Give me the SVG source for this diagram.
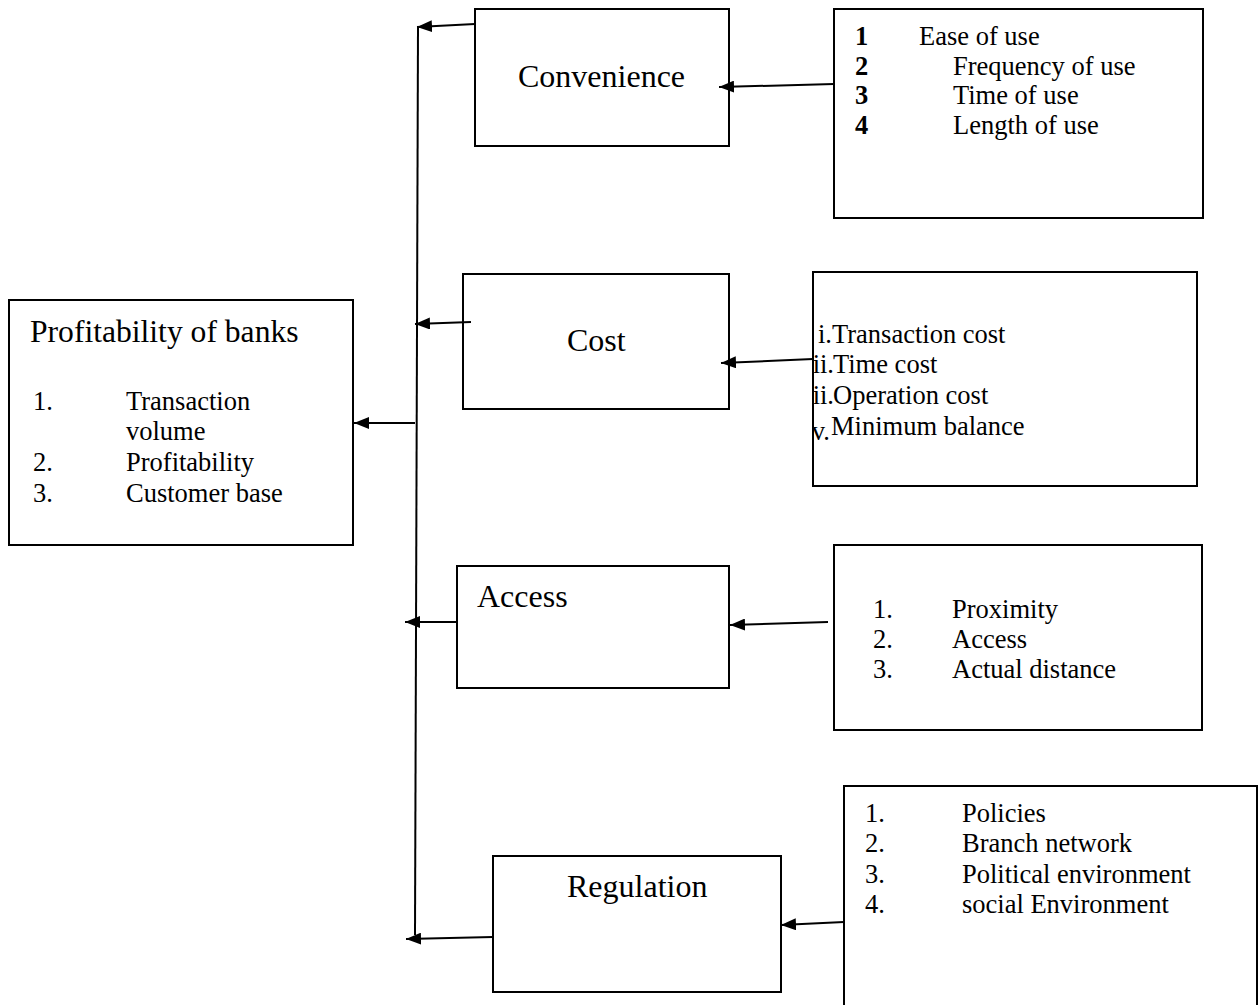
<svg xmlns="http://www.w3.org/2000/svg" width="1259" height="1005" viewBox="0 0 1259 1005">
<style>
.box{fill:#fff;stroke:#000;stroke-width:2}
.ln{fill:none;stroke:#000;stroke-width:2}
.t{font-family:"Liberation Serif","Times New Roman",serif;fill:#000}
.h{font-size:32px}
.s{font-size:26.5px}
.b{font-weight:bold}
</style>
<defs>
<marker id="ah" viewBox="0 0 15 12" refX="15" refY="6" markerWidth="15" markerHeight="12" markerUnits="userSpaceOnUse" orient="auto">
<path d="M0,0 L15,6 L0,12 z" fill="#000"/>
</marker>
<clipPath id="costclip"><rect x="814" y="272" width="383" height="214"/></clipPath>
</defs>

<g id="profitability">
<rect class="box" x="9" y="300" width="344" height="245"/>
<text class="t" x="30" y="342" font-size="31.6">Profitability of banks</text>
<text class="t s" x="33" y="410">1.</text><text class="t s" x="126" y="410">Transaction</text>
<text class="t s" x="126" y="440">volume</text>
<text class="t s" x="33" y="471">2.</text><text class="t s" x="126" y="471">Profitability</text>
<text class="t s" x="33" y="502">3.</text><text class="t s" x="126" y="502">Customer base</text>
</g>

<g id="convenience">
<rect class="box" x="475" y="9" width="254" height="137"/>
<text class="t h" x="518" y="87">Convenience</text>
</g>

<g id="convenience-factors">
<rect class="box" x="834" y="9" width="369" height="209"/>
<text class="t s b" x="855" y="45">1</text><text class="t s" x="919" y="45">Ease of use</text>
<text class="t s b" x="855" y="75">2</text><text class="t s" x="953" y="75">Frequency of use</text>
<text class="t s b" x="855" y="104">3</text><text class="t s" x="953" y="104">Time of use</text>
<text class="t s b" x="855" y="134">4</text><text class="t s" x="953" y="134">Length of use</text>
</g>

<g id="cost">
<rect class="box" x="463" y="274" width="266" height="135"/>
<text class="t h" x="567" y="351">Cost</text>
</g>

<g id="cost-factors">
<rect class="box" x="813" y="272" width="384" height="214"/>
<g clip-path="url(#costclip)">
<text class="t s" x="832" y="343" text-anchor="end">i.</text><text class="t s" x="832" y="343">Transaction cost</text>
<text class="t s" x="834" y="373" text-anchor="end">ii.</text><text class="t s" x="833" y="373">Time cost</text>
<text class="t s" x="834" y="404" text-anchor="end">ii.</text><text class="t s" x="833" y="404">Operation cost</text>
<text class="t s" x="830" y="440" text-anchor="end">v.</text><text class="t s" x="831" y="435">Minimum balance</text>
</g>
</g>

<g id="access">
<rect class="box" x="457" y="566" width="272" height="122"/>
<text class="t h" x="477" y="607">Access</text>
</g>

<g id="access-factors">
<rect class="box" x="834" y="545" width="368" height="185"/>
<text class="t s" x="873" y="618">1.</text><text class="t s" x="952" y="618">Proximity</text>
<text class="t s" x="873" y="648">2.</text><text class="t s" x="952" y="648">Access</text>
<text class="t s" x="873" y="678">3.</text><text class="t s" x="952" y="678">Actual distance</text>
</g>

<g id="regulation">
<rect class="box" x="493" y="856" width="288" height="136"/>
<text class="t h" x="567" y="897">Regulation</text>
</g>

<g id="regulation-factors">
<path class="box" d="M844,1005 V786 H1257 V1005"/>
<text class="t s" x="865" y="822">1.</text><text class="t s" x="962" y="822">Policies</text>
<text class="t s" x="865" y="852">2.</text><text class="t s" x="962" y="852">Branch network</text>
<text class="t s" x="865" y="883">3.</text><text class="t s" x="962" y="883">Political environment</text>
<text class="t s" x="865" y="913">4.</text><text class="t s" x="962" y="913">social Environment</text>
</g>

<g id="connectors">
<line class="ln" x1="418" y1="27" x2="415" y2="935"/>
<line class="ln" x1="475" y1="24" x2="417" y2="27" marker-end="url(#ah)"/>
<line class="ln" x1="471" y1="322" x2="415" y2="324" marker-end="url(#ah)"/>
<line class="ln" x1="415" y1="423" x2="354" y2="423" marker-end="url(#ah)"/>
<line class="ln" x1="457" y1="622" x2="405" y2="622" marker-end="url(#ah)"/>
<line class="ln" x1="493" y1="937" x2="406" y2="939" marker-end="url(#ah)"/>
<line class="ln" x1="834" y1="84" x2="719" y2="87" marker-end="url(#ah)"/>
<line class="ln" x1="813" y1="359" x2="721" y2="363" marker-end="url(#ah)"/>
<line class="ln" x1="828" y1="622" x2="730" y2="625" marker-end="url(#ah)"/>
<line class="ln" x1="844" y1="922" x2="781" y2="925" marker-end="url(#ah)"/>
</g>
</svg>
